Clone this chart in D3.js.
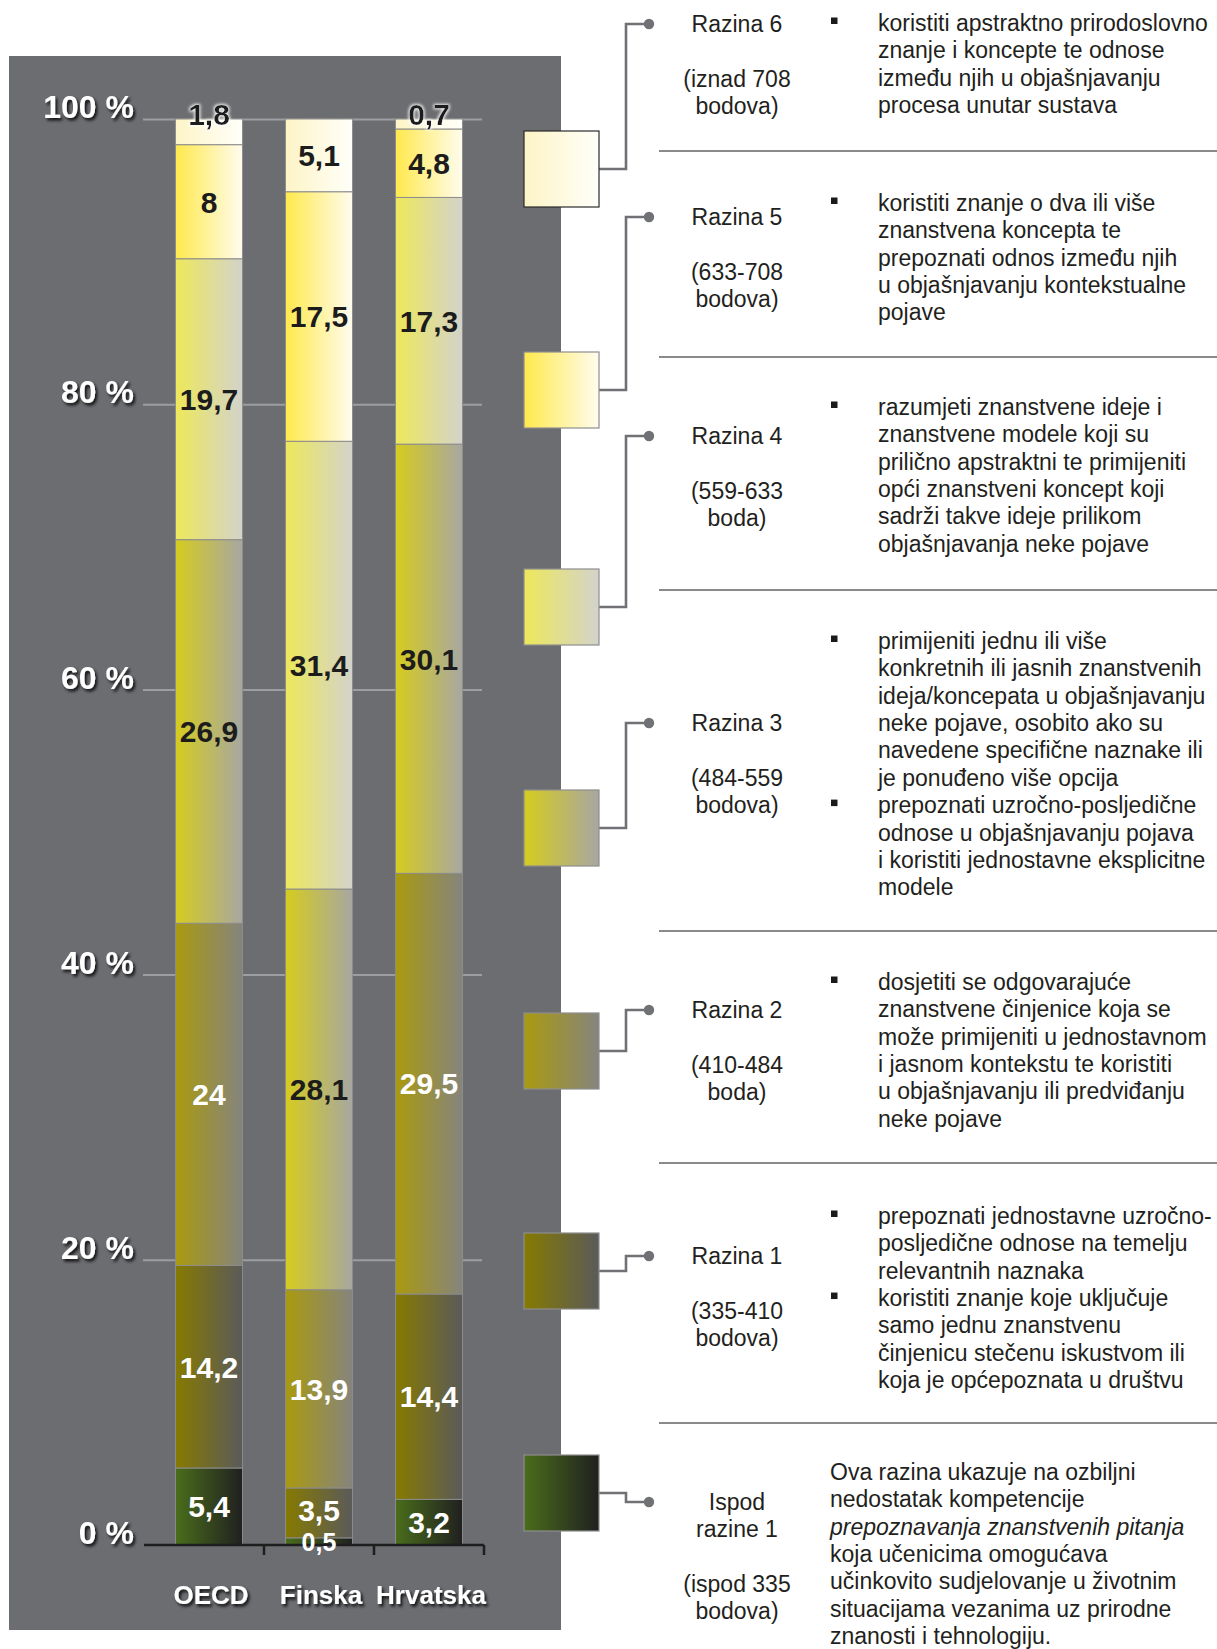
<!DOCTYPE html>
<html>
<head>
<meta charset="utf-8">
<script src="https://cdn.jsdelivr.net/npm/d3@7"></script>
<style>
  html, body { margin: 0; padding: 0; background: #fff; }
  svg { display: block; font-family: "Liberation Sans", Arial, Helvetica, sans-serif; }
</style>
</head>
<body>
<svg id="chart" width="1217" height="1649"></svg>
<script>
// ---- data -------------------------------------------------------------
const categories = ["OECD", "Finska", "Hrvatska"];
const levelKeys = ["ispod1", "razina1", "razina2", "razina3", "razina4", "razina5", "razina6"];

// share of students (%) per proficiency level, bottom of the bar to top
const belowLevel1 = [5.4, 0.5, 3.2];
const level1 = [14.2, 3.5, 14.4];
const level2 = [24, 13.9, 29.5];
const level3 = [26.9, 28.1, 30.1];
const level4 = [19.7, 31.4, 17.3];
const level5 = [8, 17.5, 4.8];
const level6 = [1.8, 5.1, 0.7];

const yTickValues = [0, 20, 40, 60, 80, 100];

// legend text, top (Razina 6) to bottom (Ispod razine 1)
const legendNames = [["Razina 6"], ["Razina 5"], ["Razina 4"], ["Razina 3"], ["Razina 2"], ["Razina 1"], ["Ispod", "razine 1"]];
const legendRanges = [
  ["(iznad 708", "bodova)"], ["(633-708", "bodova)"], ["(559-633", "boda)"],
  ["(484-559", "bodova)"], ["(410-484", "boda)"], ["(335-410", "bodova)"], ["(ispod 335", "bodova)"]
];
const legendDescriptions = [
  [{ t: "koristiti apstraktno prirodoslovno", b: true }, { t: "znanje i koncepte te odnose" }, { t: "između njih u objašnjavanju" }, { t: "procesa unutar sustava" }],
  [{ t: "koristiti znanje o dva ili više", b: true }, { t: "znanstvena koncepta te" }, { t: "prepoznati odnos između njih" }, { t: "u objašnjavanju kontekstualne" }, { t: "pojave" }],
  [{ t: "razumjeti znanstvene ideje i", b: true }, { t: "znanstvene modele koji su" }, { t: "prilično apstraktni te primijeniti" }, { t: "opći znanstveni koncept koji" }, { t: "sadrži takve ideje prilikom" }, { t: "objašnjavanja neke pojave" }],
  [{ t: "primijeniti jednu ili više", b: true }, { t: "konkretnih ili jasnih znanstvenih" }, { t: "ideja/koncepata u objašnjavanju" }, { t: "neke pojave, osobito ako su" }, { t: "navedene specifične naznake ili" }, { t: "je ponuđeno više opcija" },
   { t: "prepoznati uzročno-posljedične", b: true }, { t: "odnose u objašnjavanju pojava" }, { t: "i koristiti jednostavne eksplicitne" }, { t: "modele" }],
  [{ t: "dosjetiti se odgovarajuće", b: true }, { t: "znanstvene činjenice koja se" }, { t: "može primijeniti u jednostavnom" }, { t: "i jasnom kontekstu te koristiti" }, { t: "u objašnjavanju ili predviđanju" }, { t: "neke pojave" }],
  [{ t: "prepoznati jednostavne uzročno-", b: true }, { t: "posljedične odnose na temelju" }, { t: "relevantnih naznaka" }, { t: "koristiti znanje koje uključuje", b: true }, { t: "samo jednu znanstvenu" }, { t: "činjenicu stečenu iskustvom ili" }, { t: "koja je općepoznata u društvu" }],
  [{ t: "Ova razina ukazuje na ozbiljni" }, { t: "nedostatak kompetencije" }, { t: "prepoznavanja znanstvenih pitanja", i: true }, { t: "koja učenicima omogućava" }, { t: "učinkovito sudjelovanje u životnim" }, { t: "situacijama vezanima uz prirodne" }, { t: "znanosti  i tehnologiju." }]
];

// ---- styling -----------------------------------------------------------
// left/right colour of the horizontal gradient for each level (bottom to top)
const levelGradients = [
  ["#4a6d1b", "#202020"],
  ["#867a00", "#5a5a5a"],
  ["#aa9a0e", "#85847e"],
  ["#d6cc1e", "#a7a7a2"],
  ["#ede85a", "#d3d3cb"],
  ["#ffe94c", "#fffcef"],
  ["#fdf4c6", "#fffffa"]
];
const panelColor = "#6c6d71";
const gridColor = "#9d9ea2";
const connectorColor = "#707175";

// ---- layout ------------------------------------------------------------
const svg = d3.select("#chart");
const y = d3.scaleLinear().domain([0, 100]).range([1545, 119]);
const x = d3.scaleBand().domain(categories).range([154, 484]).paddingInner(0.39).paddingOuter(0.195);

const legendSwatchX = 524, legendSwatchW = 75, legendSwatchH = 76;
const legendSwatchTop = [131, 352, 569, 790, 1013, 1233, 1455];
const legendNameY = [24, 217, 436, 723, 1010, 1256, 1502];
const legendDescY = [23, 203, 407, 641, 982, 1216, 1472];
const separatorY = [151, 357, 590, 931, 1163, 1423];
const lineStep = 27.35;

// ---- defs: gradients and text effects ---------------------------------
const defs = svg.append("defs");
levelGradients.forEach((g, i) => {
  const lg = defs.append("linearGradient").attr("id", "grad-" + i)
    .attr("x1", "0%").attr("x2", "100%").attr("y1", "0%").attr("y2", "0%");
  lg.append("stop").attr("offset", "0%").attr("stop-color", g[0]);
  lg.append("stop").attr("offset", "100%").attr("stop-color", g[1]);
});
const shadow = defs.append("filter").attr("id", "shadow").attr("x", "-20%").attr("y", "-30%").attr("width", "140%").attr("height", "170%");
shadow.append("feDropShadow").attr("dx", 2).attr("dy", 2.5).attr("stdDeviation", 1.6)
  .attr("flood-color", "#000").attr("flood-opacity", 0.85);
const halo = defs.append("filter").attr("id", "halo").attr("x", "-30%").attr("y", "-40%").attr("width", "160%").attr("height", "180%");
halo.append("feMorphology").attr("in", "SourceAlpha").attr("operator", "dilate").attr("radius", 1.2).attr("result", "d");
halo.append("feGaussianBlur").attr("in", "d").attr("stdDeviation", 1.6).attr("result", "b");
halo.append("feFlood").attr("flood-color", "#ffffff").attr("flood-opacity", 0.9);
halo.append("feComposite").attr("in2", "b").attr("operator", "in").attr("result", "g");
const hm = halo.append("feMerge");
hm.append("feMergeNode").attr("in", "g");
hm.append("feMergeNode").attr("in", "SourceGraphic");

// ---- chart panel -------------------------------------------------------
svg.append("rect").attr("x", 9).attr("y", 56).attr("width", 552).attr("height", 1574).attr("fill", panelColor);

// gridlines + percentage labels
const yAxis = d3.axisLeft(y).tickValues(yTickValues).tickSize(-(482 - 143)).tickPadding(9)
  .tickFormat(d => d + " %");
const yg = svg.append("g").attr("transform", "translate(143,0)").call(yAxis);
yg.select(".domain").remove();
yg.selectAll(".tick line").attr("stroke", gridColor).attr("stroke-width", 2)
  .attr("opacity", d => d === 0 ? 0 : 1);
yg.selectAll(".tick text").attr("fill", "#fff").attr("font-size", 32).attr("font-weight", "bold")
  .attr("font-family", "'Liberation Sans', Arial, sans-serif")
  .attr("dy", "-0.04em").attr("filter", "url(#shadow)");

// stacked bars
const rows = categories.map((c, i) => ({
  category: c,
  ispod1: belowLevel1[i], razina1: level1[i], razina2: level2[i], razina3: level3[i],
  razina4: level4[i], razina5: level5[i], razina6: level6[i]
}));
const series = d3.stack().keys(levelKeys)(rows);

const barG = svg.append("g");
series.forEach((s, li) => {
  barG.selectAll(null).data(s).join("rect")
    .attr("x", d => x(d.data.category))
    .attr("y", d => y(d[1]))
    .attr("width", x.bandwidth())
    .attr("height", d => y(d[0]) - y(d[1]))
    .attr("fill", "url(#grad-" + li + ")")
    .attr("stroke", "#8c8c8c").attr("stroke-width", 1);
});

// x axis baseline with ticks at the band boundaries
const axisG = svg.append("g");
const baseY = y(0);
axisG.append("line").attr("x1", 144).attr("x2", x.range()[1]).attr("y1", baseY).attr("y2", baseY)
  .attr("stroke", "#1e1e1e").attr("stroke-width", 2.5);
const boundaries = categories.map(c => x(c) + x.bandwidth() + x.step() * x.paddingInner() / 2);
axisG.selectAll(null).data(boundaries).join("line")
  .attr("x1", d => d).attr("x2", d => d).attr("y1", baseY).attr("y2", baseY + 10)
  .attr("stroke", "#1e1e1e").attr("stroke-width", 2.5);

// value labels: centred in each segment; very thin segments get a smaller
// label and the label above them moves up a little to make room
const labelG = svg.append("g");
const segValue = d => d[1] - d[0];
series.forEach((s, li) => {
  const isTop = li === series.length - 1;
  labelG.selectAll(null).data(s).join("text")
    .attr("x", d => x(d.data.category) + x.bandwidth() / 2)
    .attr("y", (d, j) => {
      const v = segValue(d);
      const mid = (y(d[0]) + y(d[1])) / 2;
      if (isTop && v < 2) return y(d[1]) - 5;
      if (v < 1) return mid + 1;
      if (li > 0 && segValue(series[li - 1][j]) < 1) return mid - 3;
      return mid;
    })
    .attr("dy", "0.36em")
    .attr("text-anchor", "middle")
    .attr("font-size", d => (!isTop && segValue(d) < 1) ? 25 : 30)
    .attr("font-weight", "bold")
    .attr("fill", li <= 2 ? "#ffffff" : "#1c1c1c")
    .attr("filter", d => (isTop && segValue(d) < 2) ? "url(#halo)" : null)
    .text(d => d3.format(".1~f")(segValue(d)).replace(".", ","));
});

// category labels
svg.append("g").selectAll("text").data(categories).join("text")
  .attr("x", d => x(d) + x.bandwidth() / 2 + 2)
  .attr("y", 1604)
  .attr("text-anchor", "middle")
  .attr("font-size", 26).attr("font-weight", "bold").attr("fill", "#fff")
  .attr("filter", "url(#shadow)")
  .text(d => d);

// ---- legend ------------------------------------------------------------
const legG = svg.append("g");
const nLevels = legendNames.length;

// separators between level descriptions
legG.selectAll(".sep").data(separatorY).join("line").attr("class", "sep")
  .attr("x1", 659).attr("x2", 1217).attr("y1", d => d).attr("y2", d => d)
  .attr("stroke", "#8a8a8a").attr("stroke-width", 2);

legendNames.forEach((names, i) => {
  const level = nLevels - 1 - i;
  const top = legendSwatchTop[i];
  const midY = top + legendSwatchH / 2;
  const ny = legendNameY[i];

  // connector from swatch to level name
  legG.append("path")
    .attr("d", `M${legendSwatchX + legendSwatchW},${midY}H626V${ny}H649`)
    .attr("fill", "none").attr("stroke", connectorColor).attr("stroke-width", 2.6);
  legG.append("circle").attr("cx", 649).attr("cy", ny).attr("r", 5.2).attr("fill", connectorColor);

  // swatch
  legG.append("rect")
    .attr("x", legendSwatchX).attr("y", top).attr("width", legendSwatchW).attr("height", legendSwatchH)
    .attr("fill", "url(#grad-" + level + ")")
    .attr("stroke", level === 6 ? "#2a2a2a" : "#8e8e8e").attr("stroke-width", 1.2);

  // level name and score range
  const nameLines = names.map((t, k) => ({ t, y: ny + k * lineStep }));
  const lastNameY = nameLines[nameLines.length - 1].y;
  const rangeLines = legendRanges[i].map((t, k) => ({ t, y: lastNameY + 54.7 + k * lineStep }));
  legG.selectAll(null).data(nameLines.concat(rangeLines)).join("text")
    .attr("x", 737).attr("y", d => d.y).attr("dy", "0.35em")
    .attr("text-anchor", "middle").attr("font-size", 23).attr("fill", "#231f20")
    .text(d => d.t);

  // description
  const desc = legendDescriptions[i];
  const hasBullets = desc.some(d => d.b);
  const textX = hasBullets ? 878 : 830;
  desc.forEach((d, k) => {
    const ly = legendDescY[i] + k * lineStep;
    if (d.b) {
      legG.append("rect").attr("x", 831).attr("y", ly - 5.5).attr("width", 6.5).attr("height", 6.5).attr("fill", "#1a1a1a");
    }
    legG.append("text").attr("x", textX).attr("y", ly).attr("dy", "0.35em")
      .attr("font-size", 23).attr("fill", "#231f20")
      .attr("font-style", d.i ? "italic" : null)
      .text(d.t);
  });
});
</script>
</body>
</html>
